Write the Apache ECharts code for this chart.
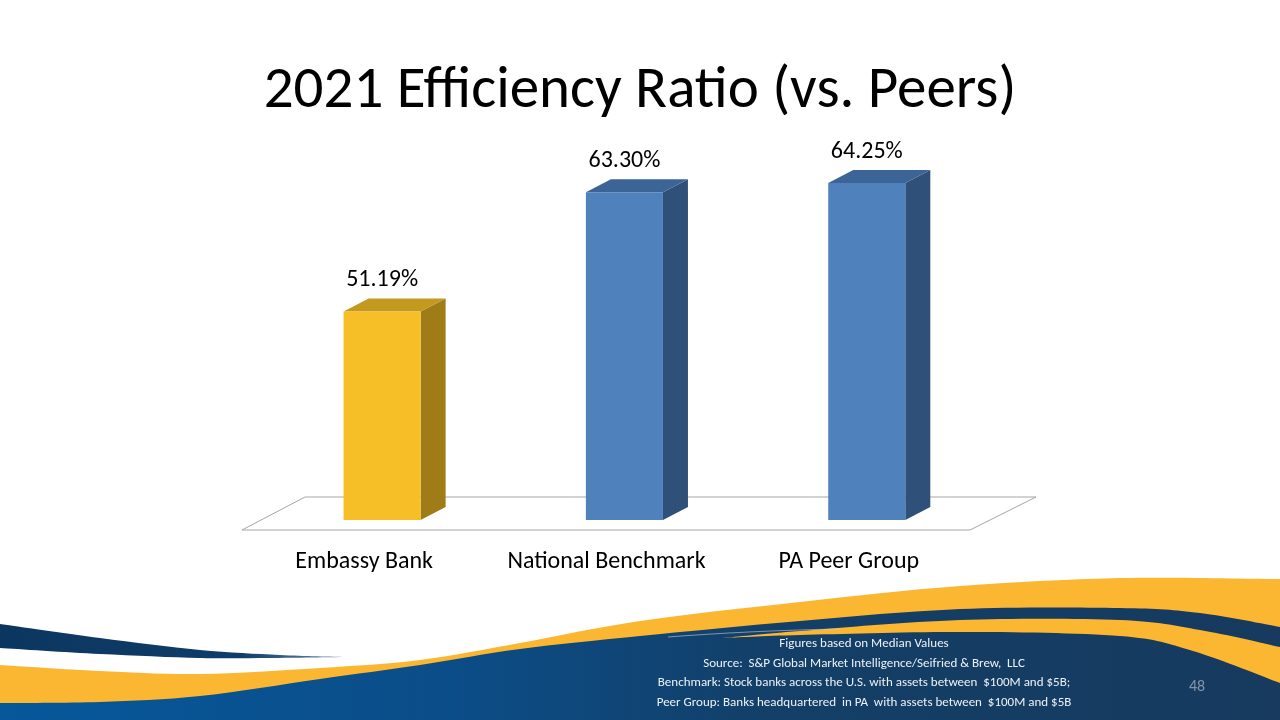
<!DOCTYPE html>
<html>
<head>
<meta charset="utf-8">
<script src="https://cdn.jsdelivr.net/npm/echarts@6/dist/echarts.min.js"></script>
<style>
  html, body { margin: 0; padding: 0; background: #fff; }
  #chart { width: 1280px; height: 720px; }
</style>
</head>
<body>
<div id="chart"></div>
<script>
const categories = ['Embassy Bank', 'National Benchmark', 'PA Peer Group'];
const ratios = [51.19, 63.30, 64.25];
const frontColors = ['#f6be27', '#4f81bd', '#4f81bd'];
const sideColors = ['#a07c18', '#2f5179', '#2f5179'];
const topColors = ['#c39a1f', '#3c6496', '#3c6496'];
const footnotes = [
  'Figures based on Median Values',
  'Source:  S&P Global Market Intelligence/Seifried & Brew,  LLC',
  'Benchmark: Stock banks across the U.S. with assets between  $100M and $5B;',
  'Peer Group: Banks headquartered  in PA  with assets between  $100M and $5B'
];

const FONT = 'Carlito, Lato, "Open Sans", sans-serif';
const AXIS_MIN = 30;
const DX = 25, DY = 13;

function renderBar(params, api) {
  const i = api.value(0);
  const v = api.value(1);
  const top = api.coord([i, v]);
  const base = api.coord([i, AXIS_MIN]);
  const band = api.size([1, 0])[0];
  const w = band * 0.318;
  const x0 = base[0] - band * 0.085;
  const x1 = x0 + w;
  const yt = top[1], yb = base[1];
  return {
    type: 'group',
    children: [
      { type: 'polygon', shape: { points: [[x1, yt], [x1 + DX, yt - DY], [x1 + DX, yb - DY], [x1, yb]] },
        style: { fill: sideColors[i] } },
      { type: 'polygon', shape: { points: [[x0, yt], [x0 + DX, yt - DY], [x1 + DX, yt - DY], [x1, yt]] },
        style: { fill: topColors[i] } },
      { type: 'rect', shape: { x: x0, y: yt, width: w, height: yb - yt },
        style: { fill: frontColors[i] } },
      { type: 'text', x: x0 + w / 2, y: yt - 31,
        style: { text: v.toFixed(2) + '%', fill: '#000', font: '24px ' + FONT, align: 'center', verticalAlign: 'middle' } }
    ]
  };
}

// smooth curve through points (catmull-rom -> bezier), for the footer waves
function curve(pts, move) {
  let d = (move ? 'M' : 'L') + pts[0].join(',');
  for (let i = 0; i < pts.length - 1; i++) {
    const p0 = pts[i - 1] || pts[i], p1 = pts[i], p2 = pts[i + 1], p3 = pts[i + 2] || p2;
    const c1 = [p1[0] + (p2[0] - p0[0]) / 6, p1[1] + (p2[1] - p0[1]) / 6];
    const c2 = [p2[0] - (p3[0] - p1[0]) / 6, p2[1] - (p3[1] - p1[1]) / 6];
    d += ' C' + c1.join(',') + ' ' + c2.join(',') + ' ' + p2.join(',');
  }
  return d;
}

function renderFooter() {
  const yellow = '#fbb632';
  const yellowTop = [[0, 665], [100, 671], [200, 674], [320, 668], [420, 660], [520, 643], [640, 621],
    [800, 602], [960, 586], [1120, 578], [1280, 579]];
  const navyTop = [[0, 703], [100, 702], [200, 696], [320, 679], [420, 665], [520, 649], [640, 636],
    [800, 621], [960, 609], [1120, 608], [1200, 613], [1280, 627]];
  const lowerTop = [[723, 638], [800, 631], [960, 620], [1120, 620], [1200, 630], [1280, 647]];
  const lowerBottom = [[1280, 683], [1193, 651], [1120, 636], [960, 632], [800, 635], [723, 638]];
  const thinTop = [[0, 624], [100, 638], [200, 650], [280, 655], [345, 657]];
  const thinBottom = [[345, 657], [270, 658], [200, 658], [100, 654], [0, 648]];
  return {
    type: 'group',
    children: [
      { type: 'path', shape: { pathData: curve(yellowTop, true) + ' L1280,720 L0,720 Z' },
        style: { fill: yellow } },
      { type: 'path', shape: { pathData: curve(navyTop, true) + ' L1280,720 L0,720 Z' },
        style: { fill: { type: 'linear', x: 0, y: 0, x2: 1, y2: 0, colorStops: [
          { offset: 0, color: '#06589b' }, { offset: 0.35, color: '#0b4d88' },
          { offset: 0.6, color: '#133f68' }, { offset: 1, color: '#173a5e' }] } } },
      { type: 'path', shape: { pathData: curve(lowerTop, true) + ' ' + curve(lowerBottom, false) + ' Z' },
        style: { fill: yellow } },
      { type: 'path', shape: { pathData: 'M668,637 C720,633 780,630 840,629' },
        style: { fill: null, stroke: 'rgba(200,205,215,0.6)', lineWidth: 1 } },
      { type: 'path', shape: { pathData: curve(thinTop, true) + ' ' + curve(thinBottom, false) + ' Z' },
        style: { fill: { type: 'linear', x: 0, y: 0, x2: 1, y2: 0, colorStops: [
          { offset: 0, color: '#0b3660' }, { offset: 0.7, color: '#0f3d69' }, { offset: 1, color: '#6f8fb0' }] } } }
    ]
  };
}

const chart = echarts.init(document.getElementById('chart'));
chart.setOption({
  backgroundColor: '#fff',
  animation: false,
  title: {
    text: '2021 Efficiency Ratio (vs. Peers)',
    left: 'center',
    top: 58,
    textStyle: { fontFamily: FONT, fontSize: 59, fontWeight: 'normal', color: '#000' }
  },
  grid: { left: 243, right: 310, top: 126.4, bottom: 200 },
  xAxis: {
    type: 'category',
    data: categories,
    axisLine: { show: false },
    axisTick: { show: false },
    axisLabel: { interval: 0, margin: 30, fontSize: 24, color: '#000', fontFamily: FONT }
  },
  yAxis: { type: 'value', min: AXIS_MIN, max: 70, show: false, splitLine: { show: false } },
  graphic: [
    { type: 'polygon', z: 0, shape: { points: [[242, 530], [305, 497], [1036, 497], [970, 530]] },
      style: { fill: '#fff', stroke: '#a6a6a6', lineWidth: 1 } },
    ...footnotes.map((t, k) => ({
      type: 'text', z: 100, x: 864, y: 644 + k * 19.5,
      style: { text: t, fill: '#eef1f5', font: '13px ' + FONT, align: 'center', verticalAlign: 'middle' }
    })),
    { type: 'text', z: 100, x: 1197, y: 687,
      style: { text: '48', fill: '#8293a8', font: '16px ' + FONT, align: 'center', verticalAlign: 'middle' } }
  ],
  series: [
    {
      type: 'custom',
      coordinateSystem: 'none',
      silent: true,
      z: 1,
      renderItem: renderFooter,
      data: [[0]]
    },
    {
      type: 'custom',
      z: 5,
      renderItem: renderBar,
      encode: { x: 0, y: 1 },
      data: ratios.map((v, i) => [i, v])
    }
  ]
});
</script>
</body>
</html>
